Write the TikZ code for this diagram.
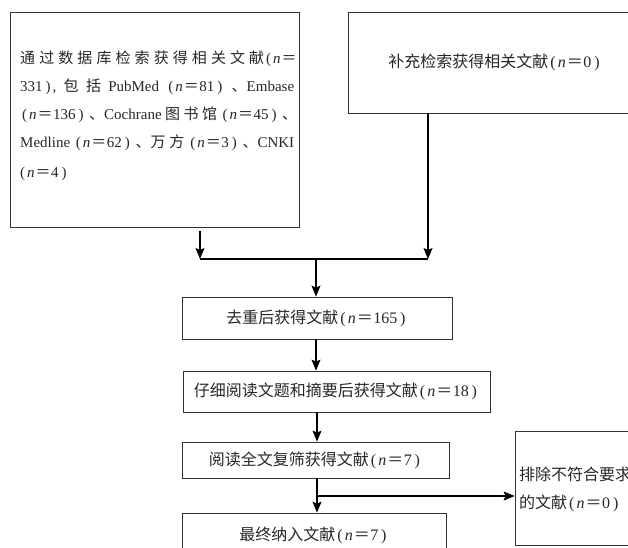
\documentclass[tikz,border=0pt]{standalone}
\usepackage{fontspec}
\setmainfont{Liberation Serif}
\newfontfamily\zhfont{Noto Sans CJK SC}
\newcommand\zh[1]{{\zhfont #1}}
\newcommand\nn{\kern1pt\textit{n}\kern1pt{\zhfont ＝}\kern0.5pt}
\newcommand\lp{\kern2pt(\kern1pt}
\newcommand\rp{\kern3pt)\kern2pt}
\usetikzlibrary{arrows.meta}
\begin{document}
\begin{tikzpicture}[x=1pt,y=-1pt,
  box/.style={draw=black!80, line width=0.8pt, inner sep=0pt},
  txt/.style={font=\fontsize{16}{28}\selectfont, text=black!85},
  txtA/.style={font=\fontsize{15}{28}\selectfont, text=black!85},
  arr/.style={draw=black, line width=1.1pt, -{Stealth[length=11pt,width=9pt,inset=2pt]}},
  ln/.style={draw=black, line width=1.1pt}]
\useasboundingbox (0,0) rectangle (628,547);
\clip (0,0) rectangle (628,547);

% boxes
\node[box, minimum width=289pt, minimum height=215pt] (A) at (154.5,119.5) {};
\node[txtA, anchor=west, text width=277pt, align=left, inner sep=0pt] (Atxt) at (20,116) {%
\makebox[277pt][s]{\zh{通}\hfill\zh{过}\hfill\zh{数}\hfill\zh{据}\hfill\zh{库}\hfill\zh{检}\hfill\zh{索}\hfill\zh{获}\hfill\zh{得}\hfill\zh{相}\hfill\zh{关}\hfill\zh{文}\hfill\zh{献}\lp\nn}\\
\makebox[274pt][s]{331\rp,\hfill\zh{包}\hfill\zh{括}\hfill PubMed\hfill\lp\nn81\rp\hfill\zh{、}Embase}\\
\makebox[277pt][s]{\lp\nn136\rp\hfill\zh{、}Cochrane\hfill\zh{图}\hfill\zh{书}\hfill\zh{馆}\hfill\lp\nn45\rp\hfill\zh{、}}\\
\makebox[274pt][s]{Medline\hfill\lp\nn62\rp\hfill\zh{、万}\hfill\zh{方}\hfill\lp\nn3\rp\hfill\zh{、}CNKI}\\
\lp\nn4\rp};

\node[box, txt, minimum width=294pt, minimum height=101pt] (B) at (495,62.5) {\zh{补充检索获得相关文献}\lp\nn0\rp};
\node[box, txt, minimum width=270pt, minimum height=42pt] (C) at (317,318) {\zh{去重后获得文献}\lp\nn165\rp};
\node[box, txt, minimum width=307pt, minimum height=41pt] (D) at (336.5,391.5) {\zh{仔细阅读文题和摘要后获得文献}\lp\nn18\rp};
\node[box, txt, minimum width=267pt, minimum height=36pt] (E) at (315.5,460) {\zh{阅读全文复筛获得文献}\lp\nn7\rp};
\node[box, txt, minimum width=264pt, minimum height=44pt] (F) at (314,535) {\zh{最终纳入文献}\lp\nn7\rp};
\node[box, minimum width=130pt, minimum height=114pt] (G) at (580,488) {};
\node[txt, anchor=west, align=left, inner sep=0pt] (Gtxt) at (519,489) {\zh{排除不符合要求}\\\zh{的文献}\lp\nn0\rp};

% connectors
\coordinate (J1) at (200,259);
\coordinate (J2) at (428,259);
\coordinate (J) at (316,259);
\draw[arr] ([yshift=-4pt]A.south -| J1) -- (J1);
\draw[arr] (B.south -| J2) -- (J2);
\draw[ln] (J1) -- (J2);
\draw[arr] (J) -- (J |- C.north);
\draw[arr] (J |- C.south) -- (J |- D.north);
\draw[arr] (D.south -| 317,0) -- (317,0 |- E.north);
\draw[arr] (E.south -| 317,0) -- (317,0 |- F.north);
\coordinate (K) at (317,496);
\draw[arr] (K) -- (K -| G.west);
\end{tikzpicture}
\end{document}
